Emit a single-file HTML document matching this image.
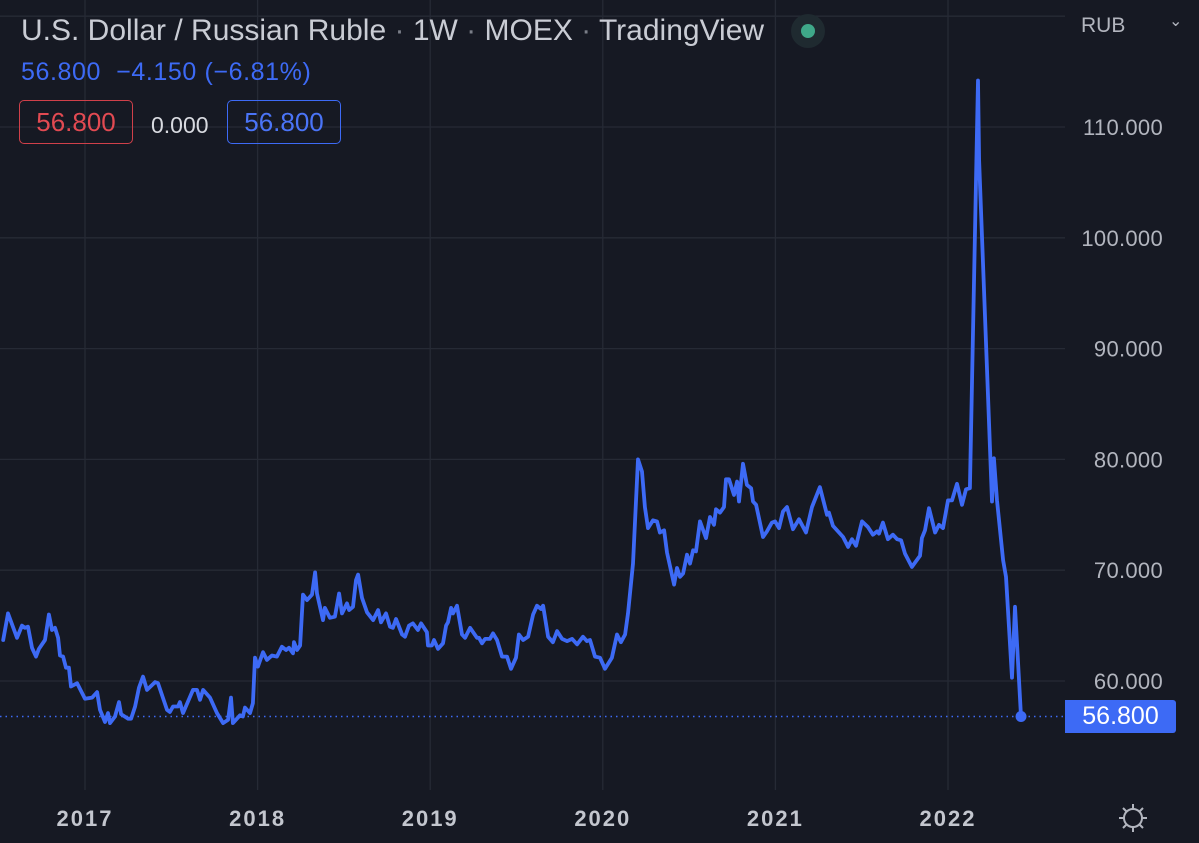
<!DOCTYPE html>
<html><head><meta charset="utf-8"><style>
html,body{margin:0;padding:0;background:#161923;}
body{width:1199px;height:843px;overflow:hidden;position:relative;font-family:"Liberation Sans",sans-serif;}
.abs{position:absolute;white-space:nowrap;}
</style></head><body>
<svg id="chart" width="1199" height="843" style="position:absolute;left:0;top:0">
  <g id="grid"></g>
  <g id="plot"></g>
  <g id="axes"></g>
</svg>
<div class="abs" style="left:21px;top:14px;font-size:30px;color:#c9ccd4;">U.S. Dollar / Russian Ruble <span style="color:#7a7e88">·</span> 1W <span style="color:#7a7e88">·</span> MOEX <span style="color:#7a7e88">·</span> TradingView</div>
<div class="abs" style="left:791px;top:14px;width:34px;height:34px;border-radius:50%;background:#1f2a30;"><div style="position:absolute;left:10px;top:10px;width:14px;height:14px;border-radius:50%;background:#3fa889"></div></div>
<div class="abs" style="left:21px;top:58px;font-size:25px;color:#3d6af5;letter-spacing:0.6px;">56.800&nbsp; −4.150 (−6.81%)</div>
<div class="abs" style="left:19px;top:100px;width:112px;height:42px;border:1.5px solid #d0404a;border-radius:5px;color:#e24a52;font-size:26px;line-height:42px;text-align:center;">56.800</div>
<div class="abs" style="left:151px;top:112px;font-size:23px;color:#d8dae0;">0.000</div>
<div class="abs" style="left:227px;top:100px;width:112px;height:42px;border:1.5px solid #3d6af5;border-radius:5px;color:#4a74f7;font-size:26px;line-height:42px;text-align:center;">56.800</div>
<div class="abs" style="left:1081px;top:14px;font-size:21px;color:#b2b5be;">RUB<span style="position:absolute;left:88px;top:-3px;font-size:16px;">⌄</span></div>
<div class="abs" style="left:1065px;top:700px;width:111px;height:33px;background:#3d6af5;border-radius:0 3px 3px 0;color:#fff;font-size:25px;line-height:33px;text-align:center;">56.800</div>
<div class="abs" style="left:1118px;top:803px;width:30px;height:30px;">
<svg width="30" height="30"><circle cx="15" cy="15" r="9" fill="none" stroke="#b2b5be" stroke-width="2"/><g stroke="#b2b5be" stroke-width="2"><line x1="15" y1="1" x2="15" y2="6"/><line x1="15" y1="24" x2="15" y2="29"/><line x1="1" y1="15" x2="6" y2="15"/><line x1="24" y1="15" x2="29" y2="15"/><line x1="5" y1="5" x2="8.5" y2="8.5"/><line x1="21.5" y1="21.5" x2="25" y2="25"/><line x1="5" y1="25" x2="8.5" y2="21.5"/><line x1="21.5" y1="8.5" x2="25" y2="5"/></g></svg></div>
<script>
const dates=[2016.526,2016.554,2016.606,2016.635,2016.652,2016.670,2016.693,2016.716,2016.733,2016.768,2016.791,2016.809,2016.826,2016.844,2016.855,2016.873,2016.890,2016.907,2016.919,2016.954,2017.000,2017.041,2017.070,2017.087,2017.116,2017.133,2017.145,2017.174,2017.197,2017.209,2017.249,2017.267,2017.290,2017.313,2017.336,2017.359,2017.406,2017.423,2017.475,2017.492,2017.510,2017.539,2017.550,2017.568,2017.626,2017.649,2017.666,2017.684,2017.724,2017.765,2017.800,2017.829,2017.846,2017.857,2017.898,2017.915,2017.927,2017.956,2017.973,2017.985,2018.002,2018.031,2018.054,2018.083,2018.112,2018.141,2018.165,2018.182,2018.205,2018.211,2018.228,2018.246,2018.263,2018.286,2018.315,2018.333,2018.344,2018.379,2018.390,2018.419,2018.448,2018.472,2018.489,2018.518,2018.530,2018.553,2018.570,2018.582,2018.605,2018.634,2018.669,2018.698,2018.715,2018.744,2018.767,2018.784,2018.802,2018.837,2018.854,2018.877,2018.900,2018.929,2018.947,2018.981,2018.987,2019.010,2019.022,2019.045,2019.074,2019.092,2019.103,2019.121,2019.132,2019.155,2019.184,2019.202,2019.231,2019.271,2019.283,2019.300,2019.318,2019.346,2019.364,2019.387,2019.416,2019.445,2019.468,2019.497,2019.514,2019.538,2019.567,2019.596,2019.619,2019.642,2019.654,2019.683,2019.711,2019.735,2019.764,2019.793,2019.822,2019.851,2019.885,2019.908,2019.926,2019.955,2019.984,2020.013,2020.053,2020.082,2020.105,2020.129,2020.146,2020.175,2020.204,2020.227,2020.244,2020.262,2020.291,2020.314,2020.331,2020.355,2020.372,2020.413,2020.430,2020.447,2020.465,2020.488,2020.505,2020.523,2020.540,2020.563,2020.598,2020.621,2020.644,2020.656,2020.679,2020.702,2020.714,2020.731,2020.760,2020.778,2020.789,2020.812,2020.835,2020.859,2020.870,2020.888,2020.928,2020.951,2020.980,2020.998,2021.021,2021.044,2021.067,2021.102,2021.137,2021.177,2021.212,2021.258,2021.299,2021.310,2021.334,2021.392,2021.421,2021.444,2021.467,2021.502,2021.536,2021.565,2021.589,2021.600,2021.623,2021.652,2021.681,2021.705,2021.728,2021.751,2021.791,2021.838,2021.849,2021.867,2021.890,2021.925,2021.948,2021.971,2022.000,2022.023,2022.052,2022.081,2022.104,2022.127,2022.174,2022.180,2022.255,2022.266,2022.284,2022.319,2022.336,2022.371,2022.388,2022.423];
const prices=[63.7,66.1,63.9,65.0,64.8,64.9,63.0,62.2,62.9,63.7,66.0,64.6,64.8,63.9,62.3,62.2,61.2,61.2,59.5,59.8,58.4,58.5,59.0,57.4,56.3,57.1,56.2,56.8,58.1,57.0,56.6,56.6,57.7,59.4,60.4,59.2,59.9,59.8,57.4,57.2,57.7,57.7,58.1,57.1,59.2,59.2,58.3,59.2,58.5,57.1,56.2,56.5,58.5,56.2,56.9,56.8,57.6,57.1,58.0,62.1,61.3,62.6,61.9,62.3,62.2,63.1,62.8,63.0,62.5,63.5,62.8,63.2,67.8,67.3,67.8,69.8,67.9,65.5,66.6,65.7,65.8,67.9,66.1,67.0,66.4,66.7,69.1,69.6,67.5,66.2,65.5,66.4,65.3,66.1,64.9,64.8,65.6,64.2,64.0,65.0,65.2,64.6,65.2,64.4,63.2,63.2,63.7,62.9,63.4,65.0,65.3,66.6,66.1,66.8,64.2,63.9,64.8,63.9,63.9,63.4,63.8,63.8,64.3,63.7,62.2,62.2,61.1,62.1,64.2,63.7,64.0,66.0,66.8,66.5,66.8,64.0,63.5,64.5,63.8,63.6,63.8,63.3,64.0,63.6,63.7,62.2,62.1,61.1,62.1,64.2,63.5,64.2,66.1,70.6,80.0,78.9,75.7,73.8,74.5,74.4,73.4,73.6,71.6,68.7,70.2,69.4,69.7,71.4,70.6,71.8,71.7,74.4,72.9,74.8,74.1,75.5,75.2,75.7,78.2,78.2,76.8,78.0,76.2,79.6,77.7,77.4,76.2,75.9,73.0,73.5,74.3,74.4,73.8,75.3,75.7,73.7,74.6,73.4,75.7,77.5,75.0,75.2,74.0,73.0,72.1,72.8,72.2,74.4,73.9,73.2,73.5,73.3,74.3,72.8,73.2,72.8,72.7,71.5,70.3,71.3,72.9,73.6,75.6,73.4,74.1,73.8,76.3,76.3,77.8,75.9,77.3,77.4,114.2,107.0,76.2,80.1,76.3,70.9,69.4,60.3,66.7,56.8];
const yTicks=[60,70,80,90,100,110,120];
const yTickLabels=["60.000","70.000","80.000","90.000","100.000","110.000",""];
const xTicks=[2017,2018,2019,2020,2021,2022];
const lastPrice=56.8;

const NS="http://www.w3.org/2000/svg";
function xs(d){return 85+(d-2017)*172.6;}
function ys(v){return 681-(v-60)*11.08;}
function mk(tag,attrs,parent){const e=document.createElementNS(NS,tag);for(const k in attrs)e.setAttribute(k,attrs[k]);parent.appendChild(e);return e;}
const grid=document.getElementById('grid'),plot=document.getElementById('plot'),axes=document.getElementById('axes');
const PR=1065,PB=790;
yTicks.forEach((t,i)=>{
  const l=mk('line',{x1:0,x2:PR,y1:ys(t),y2:ys(t),stroke:'#262a35','stroke-width':1.3},grid);
  
  
  if(yTickLabels[i]){
    const tx=mk('text',{x:1163,y:ys(t)+8,'text-anchor':'end','font-size':22,fill:'#b2b5be','font-family':'Liberation Sans, sans-serif','letter-spacing':0.3},axes);
    tx.textContent=yTickLabels[i];
    
    
  }
});
xTicks.forEach(t=>{
  const l=mk('line',{x1:xs(t),x2:xs(t),y1:0,y2:PB,stroke:'#262a35','stroke-width':1.3},grid);
  
  
  const tx=mk('text',{x:xs(t),y:826,'text-anchor':'middle','font-size':22,'font-weight':'bold',fill:'#c3c6ce','font-family':'Liberation Sans, sans-serif','letter-spacing':2},axes);
  tx.textContent=String(t);
  
  
});
const pl=mk('line',{x1:0,x2:PR,y1:ys(lastPrice),y2:ys(lastPrice),stroke:'#3d6af5','stroke-width':1.5,'stroke-dasharray':'1.5 4'},plot);


const pts=dates.map((d,i)=>xs(d).toFixed(1)+','+ys(prices[i]).toFixed(1)).join(' ');
const line=mk('polyline',{points:pts,fill:'none',stroke:'#3d6af5','stroke-width':3.8,'stroke-linejoin':'round','stroke-linecap':'round'},plot);


const n=dates.length-1;
const dot=mk('circle',{cx:xs(dates[n]),cy:ys(prices[n]),r:5.5,fill:'#3d6af5'},plot);


</script>
</body></html>
